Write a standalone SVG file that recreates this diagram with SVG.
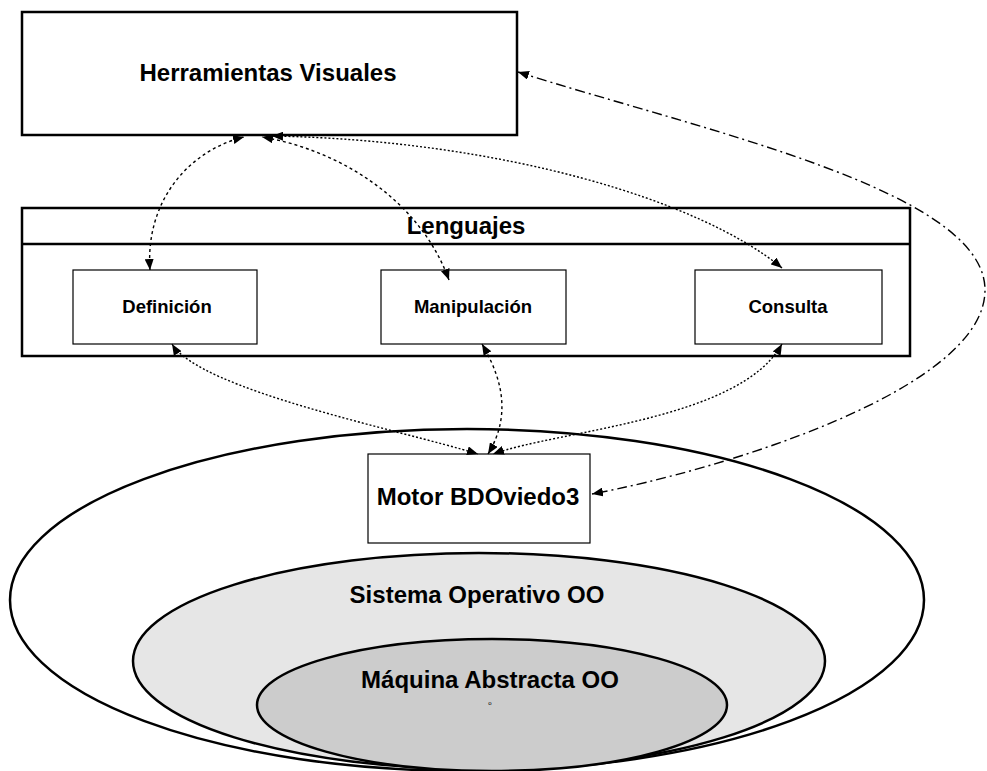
<svg xmlns="http://www.w3.org/2000/svg" width="987" height="771" viewBox="0 0 987 771">
  <style>
    .box { fill: #ffffff; stroke: #000000; stroke-width: 2.5; }
    .inner { fill: #ffffff; stroke: #000000; stroke-width: 1.2; }
    .layer { stroke: #000000; stroke-width: 2.5; }
    .lbl { font-family: "Liberation Sans", Arial, sans-serif; font-weight: bold; text-anchor: middle; fill: #000000; }
    .dot { fill: none; stroke: #000000; stroke-width: 1.4; stroke-dasharray: 2 2; }
    .dash { fill: none; stroke: #000000; stroke-width: 1.4; stroke-dasharray: 3 3; }
    .dashdot { fill: none; stroke: #000000; stroke-width: 1.4; stroke-dasharray: 10 4 2 4; }
  </style>
  <defs>
    <marker id="arrow" markerUnits="userSpaceOnUse" markerWidth="11" markerHeight="9" refX="11" refY="4.5" orient="auto-start-reverse">
      <path d="M0,0 L11,4.5 L0,9 z" fill="#000000"/>
    </marker>
  </defs>

  <!-- layered platform -->
  <g id="sistema-base">
    <ellipse class="layer" cx="467" cy="600" rx="457" ry="171" fill="#ffffff"/>
  </g>
  <g id="sistema-operativo">
    <ellipse class="layer" cx="479" cy="661" rx="346" ry="108" fill="#e6e6e6"/>
    <text class="lbl" x="477" y="603" font-size="24">Sistema Operativo OO</text>
  </g>
  <g id="maquina-abstracta">
    <ellipse class="layer" cx="492" cy="705" rx="235" ry="66" fill="#cccccc"/>
    <text class="lbl" x="490" y="688" font-size="24">Máquina Abstracta OO</text>
    <text x="490" y="705" font-family="Liberation Sans, Arial, sans-serif" font-size="6" text-anchor="middle">o</text>
  </g>

  <g id="motor">
    <rect class="inner" x="368" y="454" width="222" height="89" stroke-width="1.5"/>
    <text class="lbl" x="478" y="505" font-size="24">Motor BDOviedo3</text>
  </g>

  <g id="herramientas">
    <rect class="box" x="22" y="12" width="495" height="123"/>
    <text class="lbl" x="268" y="81" font-size="24">Herramientas Visuales</text>
  </g>

  <g id="lenguajes">
    <rect class="box" x="22" y="208" width="888" height="148"/>
    <line class="layer" x1="22" y1="244" x2="910" y2="244"/>
    <text class="lbl" x="466" y="234" font-size="24">Lenguajes</text>
  </g>
  <g id="definicion">
    <rect class="inner" x="73" y="270" width="184" height="74"/>
    <text class="lbl" x="167" y="313" font-size="18.5">Definición</text>
  </g>
  <g id="manipulacion">
    <rect class="inner" x="381" y="270" width="185" height="74"/>
    <text class="lbl" x="473" y="313" font-size="18.5">Manipulación</text>
  </g>
  <g id="consulta">
    <rect class="inner" x="695" y="270" width="187" height="74"/>
    <text class="lbl" x="788" y="313" font-size="18.5">Consulta</text>
  </g>

  <g id="connectors">
    <path class="dash" d="M150,270 C145,200 190,150 244,137" marker-start="url(#arrow)" marker-end="url(#arrow)"/>
    <path class="dash" d="M449,280 C420,200 340,150 262,137" marker-start="url(#arrow)" marker-end="url(#arrow)"/>
    <path class="dot" d="M782,268 C700,200 500,140 272,136" marker-start="url(#arrow)" marker-end="url(#arrow)"/>
    <path class="dot" d="M172,344 C200,390 400,430 478,454" marker-start="url(#arrow)" marker-end="url(#arrow)"/>
    <path class="dash" d="M482,344 C497,370 515,410 488,454" marker-start="url(#arrow)" marker-end="url(#arrow)"/>
    <path class="dot" d="M782,344 C740,420 560,430 493,454" marker-start="url(#arrow)" marker-end="url(#arrow)"/>
    <path class="dashdot" d="M518,72 C700,130 985,190 985,290 C985,390 720,470 592,494" marker-start="url(#arrow)" marker-end="url(#arrow)"/>
  </g>
</svg>
